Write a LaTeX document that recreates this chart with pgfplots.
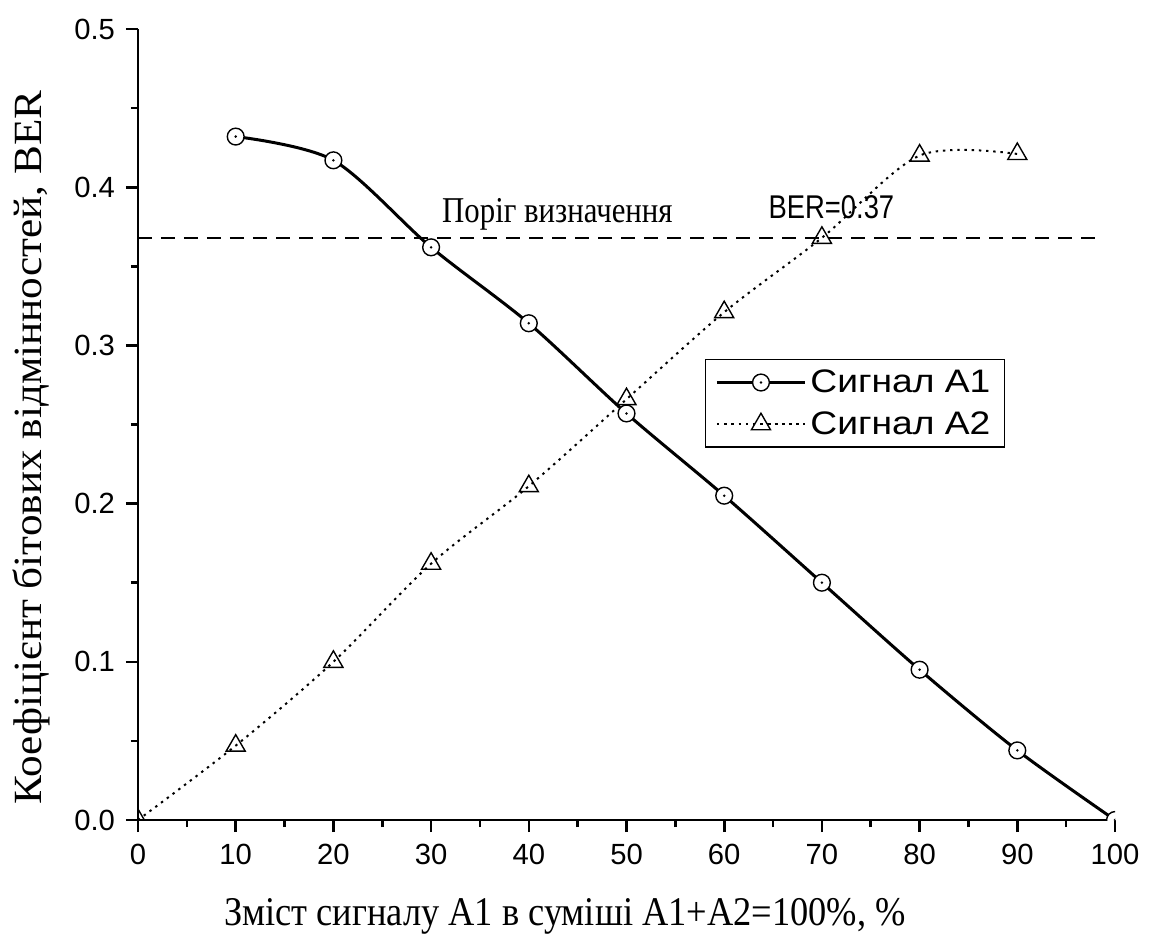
\documentclass[border=0pt]{standalone}
\usepackage{fontspec}
\setmainfont{Liberation Serif}
\setsansfont{Liberation Sans}
\usepackage{pgfplots}
\pgfplotsset{compat=1.18}

\pgfdeclareplotmark{cdot}{%
  \pgfpathcircle{\pgfpointorigin}{\pgfplotmarksize}%
  \pgfusepathqfillstroke
  \pgfpathcircle{\pgfpointorigin}{0.2pt}%
  \pgfusepathqstroke}

\begin{document}
\begin{tikzpicture}
\begin{axis}[
  name=ax,
  scale only axis,
  width=488.5pt, height=395.5pt,
  xmin=0, xmax=100, ymin=0, ymax=0.5,
  axis lines=left,
  axis line style={-, line width=1.3pt},
  xtick={0,10,...,100},
  ytick={0,0.1,0.2,0.3,0.4,0.5},
  minor x tick num=1,
  minor y tick num=1,
  tick align=outside,
  major tick length=6pt,
  minor tick length=3.5pt,
  every tick/.style={black, line width=1.3pt},
  /pgf/number format/assume math mode=true,
  tick label style={font=\sffamily\fontsize{14.6}{15}\selectfont},
  xticklabel style={yshift=-2.5pt},
  yticklabel style={xshift=-2pt, /pgf/number format/.cd, fixed, fixed zerofill, precision=1},
  xlabel={\scalebox{1}[1.12]{Зміст сигналу А1 в суміші А1+А2=100\%, \%}},
  ylabel={\scalebox{1.08}[1]{Коефіцієнт бітових відмінностей, BER}},
  xlabel style={font=\fontsize{18.2}{20}\selectfont, at={(axis description cs:0.437,-0.134)}, anchor=base},
  ylabel style={font=\fontsize{20}{22}\selectfont, at={(axis description cs:-0.0983,0.471)}, anchor=base},
  clip marker paths=true,
  legend image code/.code={\draw[mark repeat=2,mark phase=2,#1] plot coordinates {(0pt,0pt) (22pt,0pt) (44pt,0pt)};},
  legend style={at={(axis description cs:0.58,0.583)}, anchor=north west,
    draw=black, line width=0.8pt, font=\sffamily\fontsize{15.5}{20}\selectfont,
    inner xsep=5pt, inner ysep=3pt, row sep=4pt},
  legend cell align=left,
]
\addplot[black, dashed, line width=0.9pt, dash pattern=on 7pt off 4.5pt, forget plot] coordinates {(0,0.368) (98.2,0.368)};

\addplot[black, line width=1.5pt, smooth, mark=cdot, mark size=4.2pt,
  mark options={solid, fill=white, line width=0.7pt}] coordinates {
  (10,0.432) (20,0.417) (30,0.362) (40,0.314) (50,0.257)
  (60,0.205) (70,0.150) (80,0.095) (90,0.044) (100,0.0)};
\addlegendentry{\scalebox{1.2}[1.05]{Сигнал А1}}

\addplot[black, line width=1pt, smooth, dash pattern=on 1.2pt off 2.4pt,
  mark=triangle, mark size=5.5pt,
  mark options={solid, fill=white, line width=0.7pt}] coordinates {
  (0,0.0) (10,0.047) (20,0.100) (30,0.162) (40,0.211) (50,0.266)
  (60,0.321) (70,0.368) (80,0.420) (90,0.421)};
\addlegendentry{\scalebox{1.2}[1.05]{Сигнал А2}}

\node[anchor=base west, inner sep=0pt, font=\fontsize{15.4}{18}\selectfont] at (axis cs:31.1,0.378) {\scalebox{1}[1.18]{Поріг визначення}};
\node[anchor=base west, inner sep=0pt, font=\sffamily\fontsize{13.7}{18}\selectfont] at (axis cs:64.5,0.380) {\scalebox{1}[1.2]{BER=0.37}};
\end{axis}
\pgfresetboundingbox
\useasboundingbox (ax.south west) ++(-69pt,-60.5pt) rectangle ++(575pt,470.5pt);
\end{tikzpicture}
\end{document}
